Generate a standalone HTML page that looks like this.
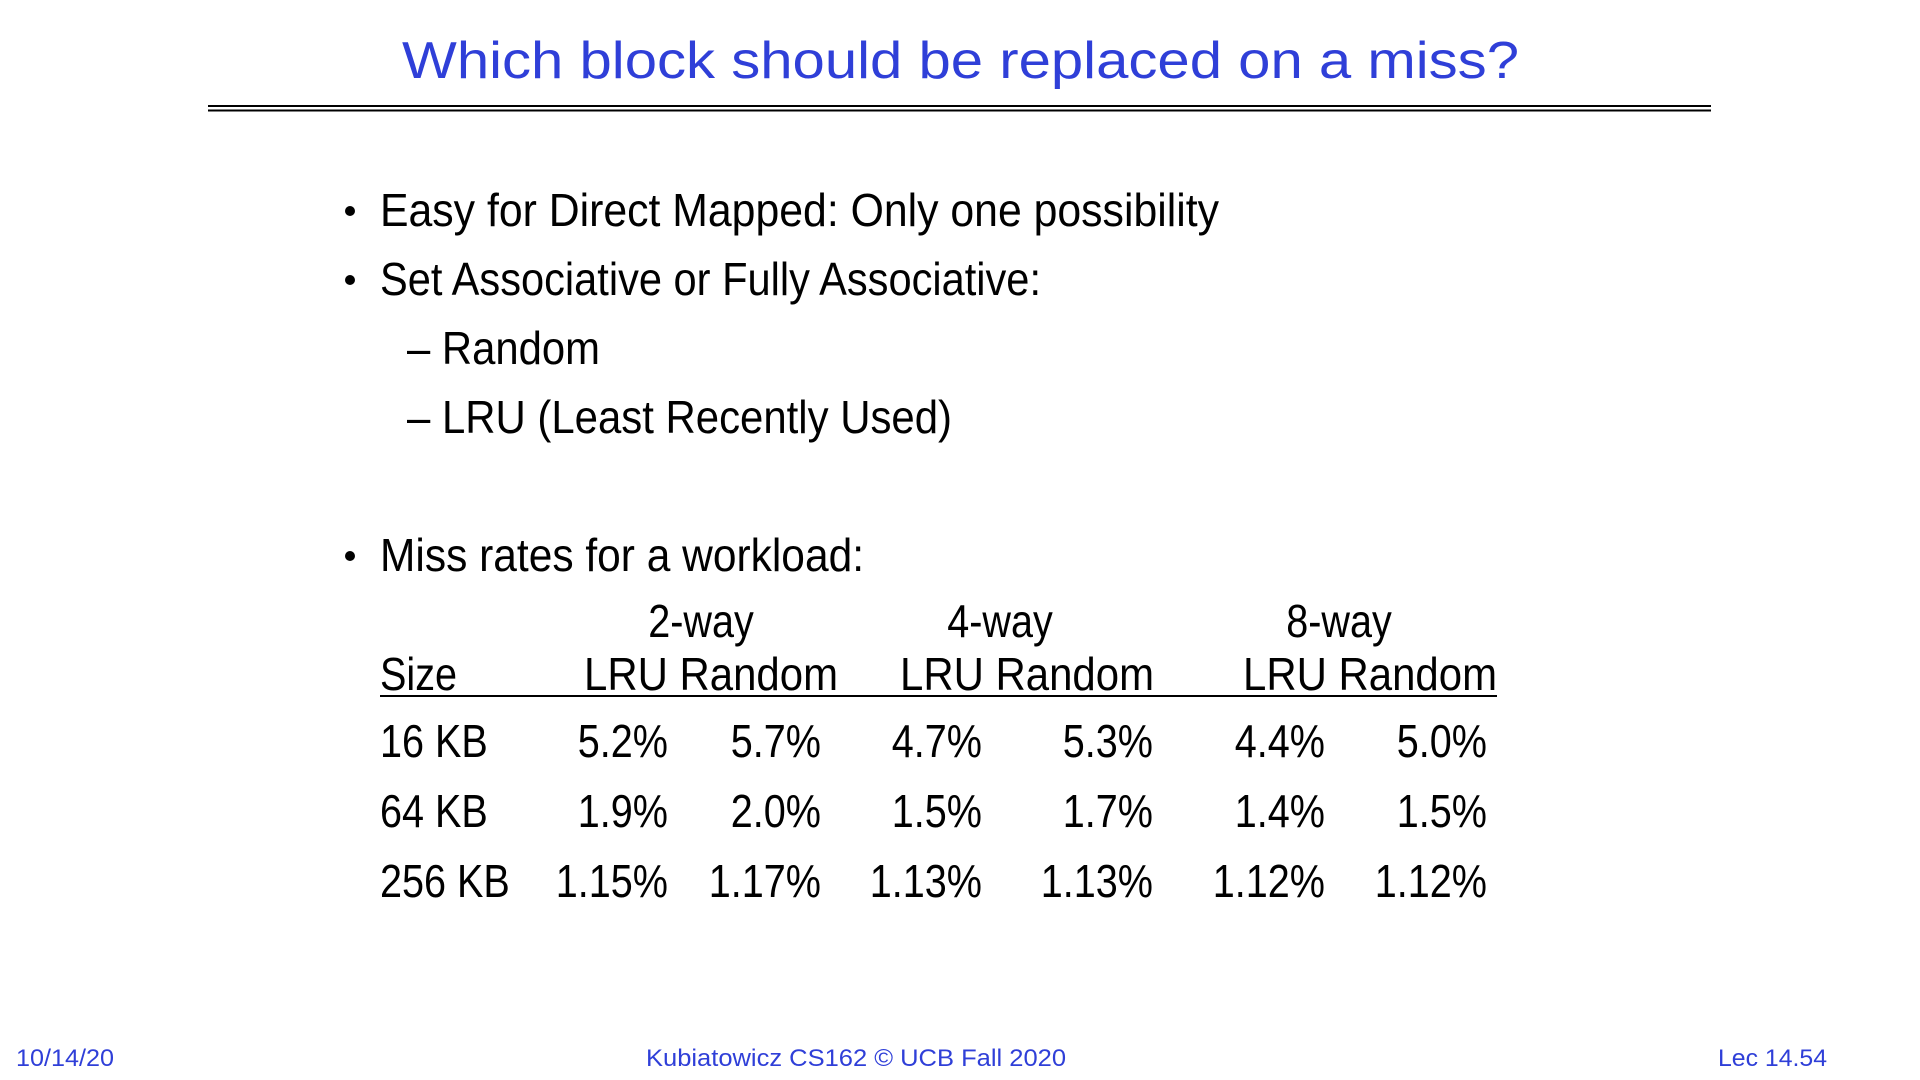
<!DOCTYPE html>
<html><head><meta charset="utf-8"><style>
html,body{margin:0;padding:0;background:#fff;}
svg{display:block;}
text{font-family:"Liberation Sans",sans-serif;}
</style></head><body>
<svg id="slide" width="1920" height="1080" viewBox="0 0 1920 1080" xmlns="http://www.w3.org/2000/svg">
<rect width="1920" height="1080" fill="#fff"/>
<text x="402" y="78" font-size="52" fill="#2f3fd8" textLength="1117" lengthAdjust="spacingAndGlyphs">Which block should be replaced on a miss?</text>
<rect x="208" y="105" width="1503" height="2" fill="#000"/>
<rect x="208" y="109.5" width="1503" height="2" fill="#000"/>
<g font-size="46" fill="#000">
<circle cx="350" cy="211" r="5"/>
<text x="380" y="226" textLength="839" lengthAdjust="spacingAndGlyphs">Easy for Direct Mapped: Only one possibility</text>
<circle cx="350" cy="280" r="5"/>
<text x="380" y="295" textLength="661" lengthAdjust="spacingAndGlyphs">Set Associative or Fully Associative:</text>
<text x="407" y="364" textLength="193" lengthAdjust="spacingAndGlyphs">– Random</text>
<text x="407" y="433" textLength="545" lengthAdjust="spacingAndGlyphs">– LRU (Least Recently Used)</text>
<circle cx="350" cy="556" r="5"/>
<text x="380" y="571" textLength="484" lengthAdjust="spacingAndGlyphs">Miss rates for a workload:</text>
</g>
<g id="table" font-size="46" fill="#000"></g>
<g font-size="24" fill="#2f3fd8">
<text x="16" y="1066" textLength="98" lengthAdjust="spacingAndGlyphs">10/14/20</text>
<text x="646" y="1066" textLength="420" lengthAdjust="spacingAndGlyphs">Kubiatowicz CS162 © UCB Fall 2020</text>
<text x="1718" y="1066" textLength="109" lengthAdjust="spacingAndGlyphs">Lec 14.54</text>
</g>
</svg>
<script>
const sizes = ["16 KB", "64 KB", "256 KB"];
const ways = ["2-way", "4-way", "8-way"];
const lru2 = ["5.2%", "1.9%", "1.15%"];
const rnd2 = ["5.7%", "2.0%", "1.17%"];
const lru4 = ["4.7%", "1.5%", "1.13%"];
const rnd4 = ["5.3%", "1.7%", "1.13%"];
const lru8 = ["4.4%", "1.4%", "1.12%"];
const rnd8 = ["5.0%", "1.5%", "1.12%"];

const NS = "http://www.w3.org/2000/svg";
const g = document.getElementById('table');
const colRight = [668, 821, 982, 1153, 1325, 1487];
const wayCenter = [701, 1000, 1339];
const groupLeft = [584, 900, 1243];
const rowY = r => 757 + r * 70;
const SQUEEZE = 0.86;
function t(x, y, s, anchor) {
  const e = document.createElementNS(NS, 'text');
  e.setAttribute('x', x); e.setAttribute('y', y);
  if (anchor) e.setAttribute('text-anchor', anchor);
  e.textContent = s; g.appendChild(e); return e;
}
function squeeze(e) {
  const w = e.getComputedTextLength();
  e.setAttribute('textLength', (w * SQUEEZE).toFixed(1));
  e.setAttribute('lengthAdjust', 'spacingAndGlyphs');
}
ways.forEach((w, i) => {
  const e = t(wayCenter[i], 637, w, 'middle');
  
  
  squeeze(e);
  const h = t(groupLeft[i], 690, 'LRU Random');
  h.setAttribute('textLength', 254);
  h.setAttribute('lengthAdjust', 'spacingAndGlyphs');
  
  
});
const sz = t(380, 690, 'Size');


squeeze(sz);
const line = document.createElementNS(NS, 'rect');
line.setAttribute('x', 380); line.setAttribute('y', 695); line.setAttribute('width', 1117); line.setAttribute('height', 2);


g.appendChild(line);
const cols = [lru2, rnd2, lru4, rnd4, lru8, rnd8];
sizes.forEach((s, r) => {
  const e = t(380, rowY(r), s);
  
  
  squeeze(e);
  cols.forEach((c, ci) => {
    const v = t(colRight[ci], rowY(r), c[r], 'end');
    
    
    squeeze(v);
  });
});
</script>
</body></html>
